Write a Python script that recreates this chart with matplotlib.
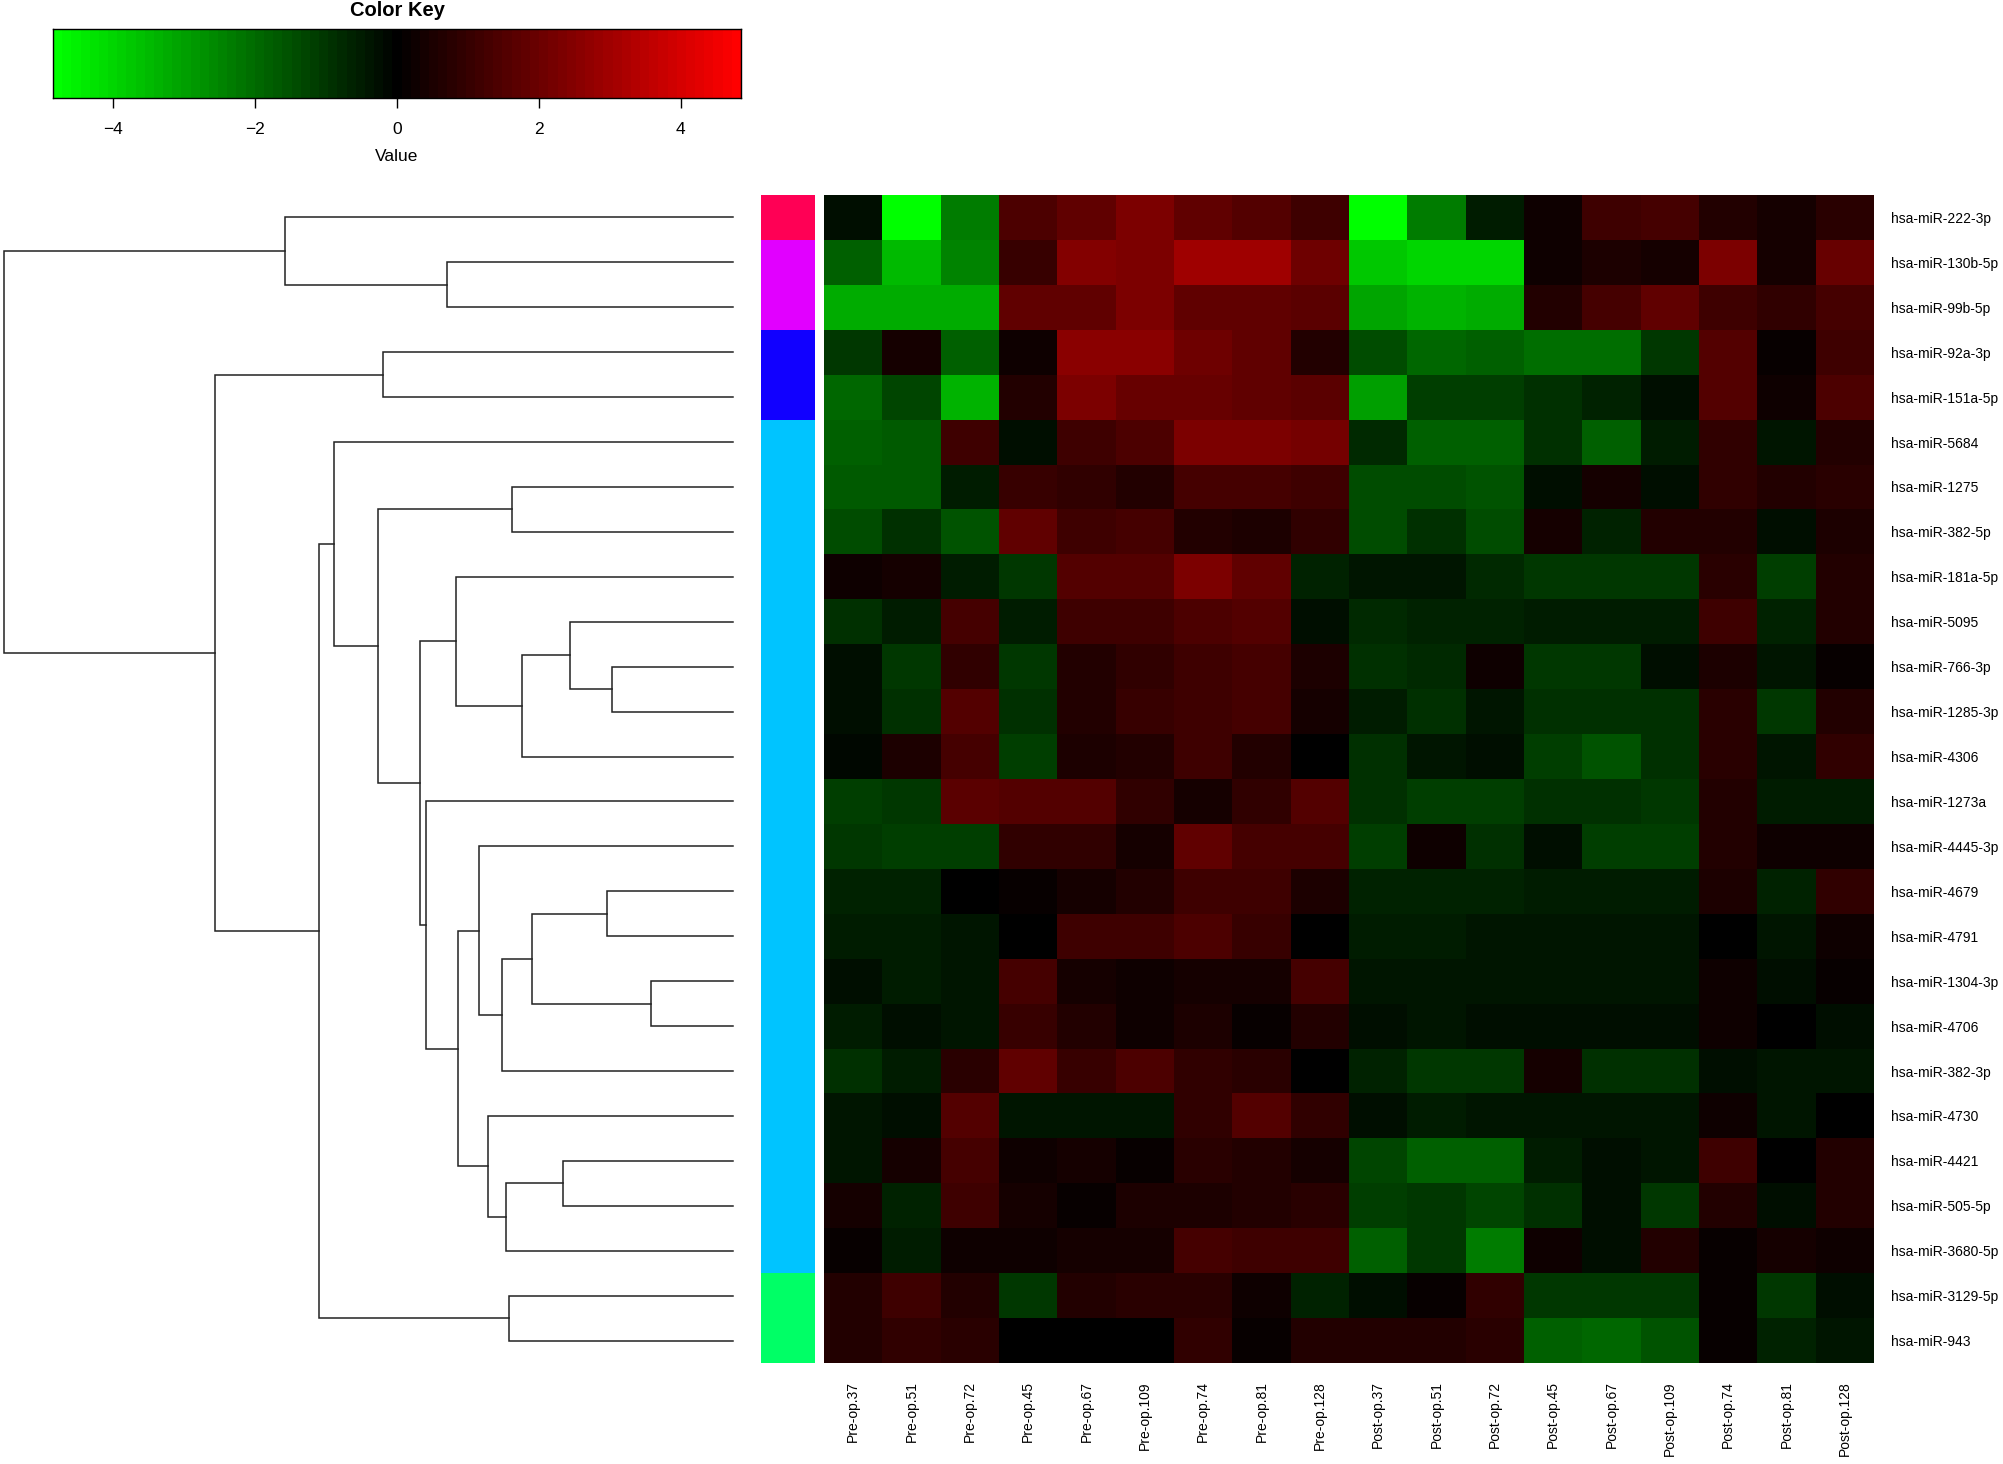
import numpy as np
import matplotlib
matplotlib.use("Agg")
import matplotlib.pyplot as plt
from matplotlib.colors import LinearSegmentedColormap, ListedColormap

plt.rcParams['font.family'] = ['Liberation Sans', 'DejaVu Sans']

genes = ["hsa-miR-222-3p", "hsa-miR-130b-5p", "hsa-miR-99b-5p", "hsa-miR-92a-3p",
         "hsa-miR-151a-5p", "hsa-miR-5684", "hsa-miR-1275", "hsa-miR-382-5p",
         "hsa-miR-181a-5p", "hsa-miR-5095", "hsa-miR-766-3p", "hsa-miR-1285-3p",
         "hsa-miR-4306", "hsa-miR-1273a", "hsa-miR-4445-3p", "hsa-miR-4679",
         "hsa-miR-4791", "hsa-miR-1304-3p", "hsa-miR-4706", "hsa-miR-382-3p",
         "hsa-miR-4730", "hsa-miR-4421", "hsa-miR-505-5p", "hsa-miR-3680-5p",
         "hsa-miR-3129-5p", "hsa-miR-943"]

samples = ["Pre-op.37", "Pre-op.51", "Pre-op.72", "Pre-op.45", "Pre-op.67", "Pre-op.109",
           "Pre-op.74", "Pre-op.81", "Pre-op.128", "Post-op.37", "Post-op.51", "Post-op.72",
           "Post-op.45", "Post-op.67", "Post-op.109", "Post-op.74", "Post-op.81", "Post-op.128"]

# scaled expression, one row per miRNA (same order as genes)
values = np.array([
    [-0.2, -4.85, -2.3, 1.4, 1.8, 2.3, 1.8, 1.5, 1.15, -4.85, -2.3, -0.5, 0.3, 1.2, 1.3, 0.6, 0.45, 0.75],
    [-1.8, -3.5, -2.4, 1.0, 2.4, 2.3, 3.0, 3.0, 2.1, -3.8, -3.95, -4.0, 0.3, 0.55, 0.4, 2.3, 0.4, 1.9],
    [-3.2, -3.2, -3.2, 1.75, 1.8, 2.35, 1.75, 1.75, 1.7, -3.1, -3.35, -3.2, 0.6, 1.35, 1.75, 1.2, 0.85, 1.35],
    [-1.0, 0.45, -1.75, 0.3, 2.65, 2.65, 2.05, 1.75, 0.6, -1.45, -1.9, -1.8, -2.1, -2.1, -1.0, 1.5, 0.15, 1.15],
    [-2.0, -1.3, -3.3, 0.7, 2.35, 2.0, 2.0, 1.75, 1.7, -3.0, -1.2, -1.2, -0.85, -0.6, -0.3, 1.5, 0.25, 1.45],
    [-1.8, -1.7, 1.15, -0.25, 1.2, 1.4, 2.35, 2.35, 2.2, -0.75, -1.8, -1.75, -0.9, -1.75, -0.55, 0.85, -0.45, 0.7],
    [-1.7, -1.7, -0.55, 1.0, 0.85, 0.7, 1.3, 1.3, 1.1, -1.45, -1.45, -1.5, -0.25, 0.4, -0.25, 0.85, 0.7, 0.75],
    [-1.45, -0.9, -1.5, 1.75, 1.15, 1.3, 0.7, 0.55, 0.85, -1.45, -0.9, -1.45, 0.4, -0.6, 0.7, 0.7, -0.25, 0.55],
    [0.25, 0.4, -0.55, -1.05, 1.5, 1.5, 2.35, 1.8, -0.7, -0.45, -0.45, -0.75, -1.0, -1.0, -1.0, 0.75, -1.15, 0.6],
    [-0.9, -0.55, 1.3, -0.55, 1.15, 1.15, 1.45, 1.6, -0.27, -0.75, -0.6, -0.7, -0.55, -0.55, -0.55, 1.15, -0.7, 0.6],
    [-0.25, -1.05, 0.85, -1.0, 0.7, 0.9, 1.15, 1.3, 0.55, -0.9, -0.75, 0.3, -1.05, -1.05, -0.27, 0.55, -0.45, 0.15],
    [-0.25, -0.9, 1.5, -0.9, 0.7, 1.0, 1.15, 1.3, 0.4, -0.55, -0.9, -0.4, -0.9, -0.9, -0.9, 0.75, -1.0, 0.6],
    [-0.15, 0.55, 1.3, -1.2, 0.55, 0.7, 1.2, 0.7, 0.0, -0.85, -0.4, -0.3, -1.2, -1.6, -0.85, 0.75, -0.4, 0.9],
    [-1.15, -1.05, 1.7, 1.5, 1.5, 0.85, 0.4, 0.9, 1.5, -0.9, -1.15, -1.15, -0.9, -0.9, -1.05, 0.7, -0.55, -0.55],
    [-1.0, -1.15, -1.15, 0.85, 0.9, 0.45, 1.75, 1.35, 1.3, -1.2, 0.3, -0.85, -0.25, -1.2, -1.2, 0.6, 0.3, 0.3],
    [-0.6, -0.6, 0.0, 0.1, 0.45, 0.7, 1.15, 1.15, 0.55, -0.6, -0.6, -0.6, -0.55, -0.55, -0.55, 0.55, -0.7, 0.9],
    [-0.55, -0.55, -0.45, 0.0, 1.2, 1.2, 1.45, 1.0, 0.0, -0.57, -0.55, -0.4, -0.4, -0.4, -0.4, 0.0, -0.45, 0.3],
    [-0.25, -0.55, -0.4, 1.3, 0.4, 0.25, 0.4, 0.4, 1.3, -0.45, -0.45, -0.45, -0.45, -0.45, -0.45, 0.3, -0.25, 0.15],
    [-0.55, -0.25, -0.4, 1.0, 0.6, 0.25, 0.55, 0.1, 0.7, -0.3, -0.4, -0.3, -0.3, -0.3, -0.3, 0.3, 0.0, -0.25],
    [-0.9, -0.57, 0.75, 1.75, 1.0, 1.45, 0.85, 0.75, 0.0, -0.7, -1.0, -1.0, 0.4, -0.85, -0.85, -0.25, -0.4, -0.4],
    [-0.4, -0.3, 1.5, -0.45, -0.45, -0.45, 0.85, 1.5, 0.9, -0.3, -0.55, -0.4, -0.4, -0.4, -0.4, 0.3, -0.4, 0.0],
    [-0.4, 0.4, 1.35, 0.25, 0.4, 0.15, 0.75, 0.7, 0.45, -1.3, -1.8, -1.8, -0.55, -0.25, -0.4, 1.15, 0.0, 0.7],
    [0.45, -0.6, 1.15, 0.45, 0.15, 0.55, 0.55, 0.6, 0.75, -1.2, -1.05, -1.3, -0.9, -0.27, -1.05, 0.6, -0.27, 0.6],
    [0.15, -0.55, 0.3, 0.25, 0.4, 0.4, 1.3, 1.1, 1.1, -1.75, -1.05, -2.35, 0.3, -0.25, 0.6, 0.1, 0.45, 0.25],
    [0.7, 1.1, 0.7, -1.05, 0.7, 0.75, 0.75, 0.3, -0.6, -0.3, 0.15, 0.85, -1.05, -1.05, -1.05, 0.15, -1.05, -0.27],
    [0.6, 0.85, 0.75, 0.0, 0.0, 0.0, 0.85, 0.15, 0.7, 0.7, 0.7, 0.75, -1.75, -2.0, -1.6, 0.15, -0.7, -0.4],
])

# cluster of each row and the colour of each cluster
row_groups = [0, 1, 1, 2, 2] + [3] * 19 + [4, 4]
group_colors = ["#FF0055", "#E100FF", "#1100FF", "#00C4FF", "#00FF66"]

# row dendrogram: (node, left child, right child, height); ints are row indices
merges = [
    ("O", 10, 11, 1.66), ("W", 17, 18, 1.12), ("V", 15, 16, 1.73), ("N", 9, "O", 2.23),
    ("Y", 21, 22, 2.33), ("U", "V", "W", 2.76), ("M", "N", 12, 2.89), ("H", 6, 7, 3.03),
    ("P", 24, 25, 3.07), ("X", "Y", 23, 3.11), ("T", "U", 19, 3.17), ("S", 20, "X", 3.36),
    ("R", 14, "T", 3.48), ("Q", "R", "S", 3.77), ("K", 8, "M", 3.80), ("A", 1, 2, 3.92),
    ("L", 13, "Q", 4.21), ("J", "K", "L", 4.29), ("C", 3, 4, 4.80), ("G", "H", "J", 4.87),
    ("F", 5, "G", 5.47), ("E", "F", "P", 5.68), ("B", 0, "A", 6.14), ("D", "C", "E", 7.10),
    ("root", "B", "D", 10.0),
]

vmax = np.abs(values).max()
cmap = LinearSegmentedColormap.from_list("greenred", ["#00FF00", "#000000", "#FF0000"], N=75)
n_rows, n_cols = values.shape

W, H = 2003, 1464
fig = plt.figure(figsize=(W / 100, H / 100), dpi=100)

def box(x0, y0, x1, y1):
    # pixel box -> figure fraction
    return [x0 / W, 1 - y1 / H, (x1 - x0) / W, (y1 - y0) / H]

# heatmap
ax = fig.add_axes(box(824, 195, 1874, 1363))
ax.pcolormesh(np.arange(n_cols + 1), np.arange(n_rows + 1), values,
              cmap=cmap, vmin=-vmax, vmax=vmax)
ax.set_xlim(0, n_cols)
ax.set_ylim(n_rows, 0)
ax.set_xticks(np.arange(n_cols) + 0.5)
ax.set_xticklabels(samples, rotation=90, fontsize=10, va="top")
ax.set_yticks(np.arange(n_rows) + 0.5)
ax.set_yticklabels(genes, fontsize=10)
ax.yaxis.tick_right()
ax.tick_params(axis="x", length=0, pad=13)
ax.tick_params(axis="y", length=0, pad=12)
for s in ax.spines.values():
    s.set_visible(False)

# side colour bar
ax_side = fig.add_axes(box(761, 195, 815, 1363))
ax_side.pcolormesh([0, 1], np.arange(n_rows + 1), np.array(row_groups).reshape(-1, 1),
                   cmap=ListedColormap(group_colors), vmin=-0.5, vmax=len(group_colors) - 0.5)
ax_side.set_ylim(n_rows, 0)
ax_side.axis("off")

# dendrogram
ax_d = fig.add_axes(box(3.6, 195, 733, 1363))
pos = {}
hgt = {}
for i in range(n_rows):
    pos[i] = i + 0.5
    hgt[i] = 0.0
for name, a, b, h in merges:
    ax_d.plot([hgt[a], h, h, hgt[b]], [pos[a], pos[a], pos[b], pos[b]],
              color="#222222", lw=1.1, clip_on=False, solid_joinstyle="miter")
    pos[name] = (pos[a] + pos[b]) / 2
    hgt[name] = h
ax_d.set_xlim(10.0, 0)
ax_d.set_ylim(n_rows, 0)
ax_d.axis("off")

# colour key
ax_k = fig.add_axes(box(53, 29, 741, 98))
edges = np.linspace(-vmax, vmax, 76)
ax_k.pcolormesh(edges, [0, 1], ((edges[:-1] + edges[1:]) / 2).reshape(1, -1),
                cmap=cmap, vmin=-vmax, vmax=vmax)
ax_k.set_xlim(-vmax, vmax)
ax_k.set_yticks([])
ax_k.set_xticks([-4, -2, 0, 2, 4])
ax_k.set_xticklabels(["\u22124", "\u22122", "0", "2", "4"])
ax_k.tick_params(axis="x", length=7, width=1, pad=10, labelsize=12.5)
ax_k.set_xlabel("Value", fontsize=12.5, labelpad=9)
ax_k.set_title("Color Key", fontsize=14.5, fontweight="bold", pad=9)
for s in ax_k.spines.values():
    s.set_linewidth(1.0)

fig.savefig("out.png", dpi=100)
